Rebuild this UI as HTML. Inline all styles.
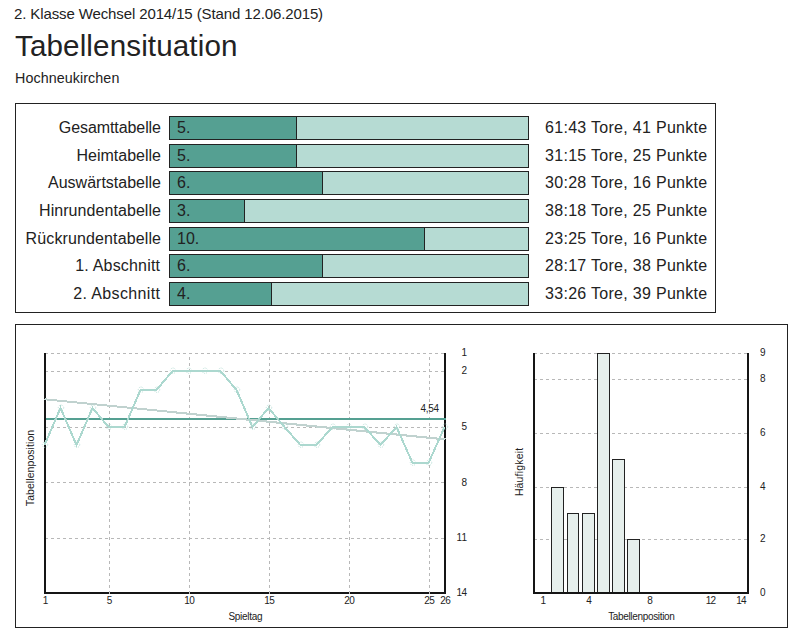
<!DOCTYPE html><html><head><meta charset="utf-8"><style>html,body{margin:0;padding:0;background:#fff;width:803px;height:636px;overflow:hidden}svg{display:block}text{font-family:"Liberation Sans",sans-serif;fill:#222}</style></head><body>
<svg width="803" height="636" viewBox="0 0 803 636" shape-rendering="crispEdges">
<text id="hdr" x="14.00" y="18.80" font-size="15" textLength="309.11" lengthAdjust="spacing">2. Klasse Wechsel 2014/15 (Stand 12.06.2015)</text>
<text id="title" x="15.00" y="56.00" font-size="29.6" textLength="222.47" lengthAdjust="spacing">Tabellensituation</text>
<text id="sub" x="15.00" y="83.00" font-size="14.3" textLength="104.33" lengthAdjust="spacing">Hochneukirchen</text>
<rect x="15.5" y="103.5" width="700" height="209" fill="none" stroke="#222"/>
<rect x="170" y="117" width="358" height="22" fill="#b6dbd3"/>
<rect x="170" y="117" width="126" height="22" fill="#55a092"/>
<rect x="296" y="117" width="1" height="22" fill="#222"/>
<rect x="169.5" y="116.5" width="359" height="23" fill="none" stroke="#222"/>
<text id="lab0" x="161.00" y="133.00" font-size="16" text-anchor="end" textLength="102.17" lengthAdjust="spacing">Gesamttabelle</text>
<text id="rk0" x="177.00" y="133.00" font-size="16">5.</text>
<text id="res0" x="545.00" y="133.00" font-size="16" textLength="162.27" lengthAdjust="spacing">61:43 Tore, 41 Punkte</text>
<rect x="170" y="145" width="358" height="22" fill="#b6dbd3"/>
<rect x="170" y="145" width="126" height="22" fill="#55a092"/>
<rect x="296" y="145" width="1" height="22" fill="#222"/>
<rect x="169.5" y="144.5" width="359" height="23" fill="none" stroke="#222"/>
<text id="lab1" x="161.00" y="161.00" font-size="16" text-anchor="end" textLength="84.48" lengthAdjust="spacing">Heimtabelle</text>
<text id="rk1" x="177.00" y="161.00" font-size="16">5.</text>
<text id="res1" x="545.00" y="161.00" font-size="16" textLength="162.27" lengthAdjust="spacing">31:15 Tore, 25 Punkte</text>
<rect x="170" y="172" width="358" height="22" fill="#b6dbd3"/>
<rect x="170" y="172" width="152" height="22" fill="#55a092"/>
<rect x="322" y="172" width="1" height="22" fill="#222"/>
<rect x="169.5" y="171.5" width="359" height="23" fill="none" stroke="#222"/>
<text id="lab2" x="161.00" y="188.00" font-size="16" text-anchor="end" textLength="112.95" lengthAdjust="spacing">Auswärtstabelle</text>
<text id="rk2" x="177.00" y="188.00" font-size="16">6.</text>
<text id="res2" x="545.00" y="188.00" font-size="16" textLength="162.27" lengthAdjust="spacing">30:28 Tore, 16 Punkte</text>
<rect x="170" y="200" width="358" height="22" fill="#b6dbd3"/>
<rect x="170" y="200" width="74" height="22" fill="#55a092"/>
<rect x="244" y="200" width="1" height="22" fill="#222"/>
<rect x="169.5" y="199.5" width="359" height="23" fill="none" stroke="#222"/>
<text id="lab3" x="161.00" y="216.00" font-size="16" text-anchor="end" textLength="121.98" lengthAdjust="spacing">Hinrundentabelle</text>
<text id="rk3" x="177.00" y="216.00" font-size="16">3.</text>
<text id="res3" x="545.00" y="216.00" font-size="16" textLength="162.27" lengthAdjust="spacing">38:18 Tore, 25 Punkte</text>
<rect x="170" y="228" width="358" height="22" fill="#b6dbd3"/>
<rect x="170" y="228" width="254" height="22" fill="#55a092"/>
<rect x="424" y="228" width="1" height="22" fill="#222"/>
<rect x="169.5" y="227.5" width="359" height="23" fill="none" stroke="#222"/>
<text id="lab4" x="161.00" y="244.00" font-size="16" text-anchor="end" textLength="135.42" lengthAdjust="spacing">Rückrundentabelle</text>
<text id="rk4" x="177.00" y="244.00" font-size="16">10.</text>
<text id="res4" x="545.00" y="244.00" font-size="16" textLength="162.27" lengthAdjust="spacing">23:25 Tore, 16 Punkte</text>
<rect x="170" y="255" width="358" height="22" fill="#b6dbd3"/>
<rect x="170" y="255" width="152" height="22" fill="#55a092"/>
<rect x="322" y="255" width="1" height="22" fill="#222"/>
<rect x="169.5" y="254.5" width="359" height="23" fill="none" stroke="#222"/>
<text id="lab5" x="160.00" y="271.00" font-size="16" text-anchor="end" textLength="84.72" lengthAdjust="spacing">1. Abschnitt</text>
<text id="rk5" x="177.00" y="271.00" font-size="16">6.</text>
<text id="res5" x="545.00" y="271.00" font-size="16" textLength="162.27" lengthAdjust="spacing">28:17 Tore, 38 Punkte</text>
<rect x="170" y="283" width="358" height="22" fill="#b6dbd3"/>
<rect x="170" y="283" width="101" height="22" fill="#55a092"/>
<rect x="271" y="283" width="1" height="22" fill="#222"/>
<rect x="169.5" y="282.5" width="359" height="23" fill="none" stroke="#222"/>
<text id="lab6" x="160.00" y="299.00" font-size="16" text-anchor="end" textLength="86.72" lengthAdjust="spacing">2. Abschnitt</text>
<text id="rk6" x="177.00" y="299.00" font-size="16">4.</text>
<text id="res6" x="545.00" y="299.00" font-size="16" textLength="162.27" lengthAdjust="spacing">33:26 Tore, 39 Punkte</text>
<rect x="15.5" y="324.5" width="772" height="303" fill="none" stroke="#222"/>
<path d="M46 353.5h2M51 353.5h3M57 353.5h3M63 353.5h3M69 353.5h3M75 353.5h3M81 353.5h3M87 353.5h3M93 353.5h3M99 353.5h3M105 353.5h3M111 353.5h3M117 353.5h3M123 353.5h3M129 353.5h3M135 353.5h3M141 353.5h3M147 353.5h3M153 353.5h3M159 353.5h3M165 353.5h3M171 353.5h3M177 353.5h3M183 353.5h3M189 353.5h3M195 353.5h3M201 353.5h3M207 353.5h3M213 353.5h3M219 353.5h3M225 353.5h3M231 353.5h3M237 353.5h3M243 353.5h3M249 353.5h3M255 353.5h3M261 353.5h3M267 353.5h3M273 353.5h3M279 353.5h3M285 353.5h3M291 353.5h3M297 353.5h3M303 353.5h3M309 353.5h3M315 353.5h3M321 353.5h3M327 353.5h3M333 353.5h3M339 353.5h3M345 353.5h3M351 353.5h3M357 353.5h3M363 353.5h3M369 353.5h3M375 353.5h3M381 353.5h3M387 353.5h3M393 353.5h3M399 353.5h3M405 353.5h3M411 353.5h3M417 353.5h3M423 353.5h3M429 353.5h3M435 353.5h3M441 353.5h3" stroke="#b8b8b8" stroke-width="1" fill="none"/>
<path d="M46 371.5h2M51 371.5h3M57 371.5h3M63 371.5h3M69 371.5h3M75 371.5h3M81 371.5h3M87 371.5h3M93 371.5h3M99 371.5h3M105 371.5h3M111 371.5h3M117 371.5h3M123 371.5h3M129 371.5h3M135 371.5h3M141 371.5h3M147 371.5h3M153 371.5h3M159 371.5h3M165 371.5h3M171 371.5h3M177 371.5h3M183 371.5h3M189 371.5h3M195 371.5h3M201 371.5h3M207 371.5h3M213 371.5h3M219 371.5h3M225 371.5h3M231 371.5h3M237 371.5h3M243 371.5h3M249 371.5h3M255 371.5h3M261 371.5h3M267 371.5h3M273 371.5h3M279 371.5h3M285 371.5h3M291 371.5h3M297 371.5h3M303 371.5h3M309 371.5h3M315 371.5h3M321 371.5h3M327 371.5h3M333 371.5h3M339 371.5h3M345 371.5h3M351 371.5h3M357 371.5h3M363 371.5h3M369 371.5h3M375 371.5h3M381 371.5h3M387 371.5h3M393 371.5h3M399 371.5h3M405 371.5h3M411 371.5h3M417 371.5h3M423 371.5h3M429 371.5h3M435 371.5h3M441 371.5h3" stroke="#b8b8b8" stroke-width="1" fill="none"/>
<path d="M46 427.5h2M51 427.5h3M57 427.5h3M63 427.5h3M69 427.5h3M75 427.5h3M81 427.5h3M87 427.5h3M93 427.5h3M99 427.5h3M105 427.5h3M111 427.5h3M117 427.5h3M123 427.5h3M129 427.5h3M135 427.5h3M141 427.5h3M147 427.5h3M153 427.5h3M159 427.5h3M165 427.5h3M171 427.5h3M177 427.5h3M183 427.5h3M189 427.5h3M195 427.5h3M201 427.5h3M207 427.5h3M213 427.5h3M219 427.5h3M225 427.5h3M231 427.5h3M237 427.5h3M243 427.5h3M249 427.5h3M255 427.5h3M261 427.5h3M267 427.5h3M273 427.5h3M279 427.5h3M285 427.5h3M291 427.5h3M297 427.5h3M303 427.5h3M309 427.5h3M315 427.5h3M321 427.5h3M327 427.5h3M333 427.5h3M339 427.5h3M345 427.5h3M351 427.5h3M357 427.5h3M363 427.5h3M369 427.5h3M375 427.5h3M381 427.5h3M387 427.5h3M393 427.5h3M399 427.5h3M405 427.5h3M411 427.5h3M417 427.5h3M423 427.5h3M429 427.5h3M435 427.5h3M441 427.5h3" stroke="#b8b8b8" stroke-width="1" fill="none"/>
<path d="M46 482.5h2M51 482.5h3M57 482.5h3M63 482.5h3M69 482.5h3M75 482.5h3M81 482.5h3M87 482.5h3M93 482.5h3M99 482.5h3M105 482.5h3M111 482.5h3M117 482.5h3M123 482.5h3M129 482.5h3M135 482.5h3M141 482.5h3M147 482.5h3M153 482.5h3M159 482.5h3M165 482.5h3M171 482.5h3M177 482.5h3M183 482.5h3M189 482.5h3M195 482.5h3M201 482.5h3M207 482.5h3M213 482.5h3M219 482.5h3M225 482.5h3M231 482.5h3M237 482.5h3M243 482.5h3M249 482.5h3M255 482.5h3M261 482.5h3M267 482.5h3M273 482.5h3M279 482.5h3M285 482.5h3M291 482.5h3M297 482.5h3M303 482.5h3M309 482.5h3M315 482.5h3M321 482.5h3M327 482.5h3M333 482.5h3M339 482.5h3M345 482.5h3M351 482.5h3M357 482.5h3M363 482.5h3M369 482.5h3M375 482.5h3M381 482.5h3M387 482.5h3M393 482.5h3M399 482.5h3M405 482.5h3M411 482.5h3M417 482.5h3M423 482.5h3M429 482.5h3M435 482.5h3M441 482.5h3" stroke="#b8b8b8" stroke-width="1" fill="none"/>
<path d="M46 538.5h2M51 538.5h3M57 538.5h3M63 538.5h3M69 538.5h3M75 538.5h3M81 538.5h3M87 538.5h3M93 538.5h3M99 538.5h3M105 538.5h3M111 538.5h3M117 538.5h3M123 538.5h3M129 538.5h3M135 538.5h3M141 538.5h3M147 538.5h3M153 538.5h3M159 538.5h3M165 538.5h3M171 538.5h3M177 538.5h3M183 538.5h3M189 538.5h3M195 538.5h3M201 538.5h3M207 538.5h3M213 538.5h3M219 538.5h3M225 538.5h3M231 538.5h3M237 538.5h3M243 538.5h3M249 538.5h3M255 538.5h3M261 538.5h3M267 538.5h3M273 538.5h3M279 538.5h3M285 538.5h3M291 538.5h3M297 538.5h3M303 538.5h3M309 538.5h3M315 538.5h3M321 538.5h3M327 538.5h3M333 538.5h3M339 538.5h3M345 538.5h3M351 538.5h3M357 538.5h3M363 538.5h3M369 538.5h3M375 538.5h3M381 538.5h3M387 538.5h3M393 538.5h3M399 538.5h3M405 538.5h3M411 538.5h3M417 538.5h3M423 538.5h3M429 538.5h3M435 538.5h3M441 538.5h3" stroke="#b8b8b8" stroke-width="1" fill="none"/>
<path d="M109.5 357v3M109.5 363v3M109.5 369v3M109.5 375v3M109.5 381v3M109.5 387v3M109.5 393v3M109.5 399v3M109.5 405v3M109.5 411v3M109.5 417v3M109.5 423v3M109.5 429v3M109.5 435v3M109.5 441v3M109.5 447v3M109.5 453v3M109.5 459v3M109.5 465v3M109.5 471v3M109.5 477v3M109.5 483v3M109.5 489v3M109.5 495v3M109.5 501v3M109.5 507v3M109.5 513v3M109.5 519v3M109.5 525v3M109.5 531v3M109.5 537v3M109.5 543v3M109.5 549v3M109.5 555v3M109.5 561v3M109.5 567v3M109.5 573v3M109.5 579v3M109.5 585v3M109.5 591v1" stroke="#b8b8b8" stroke-width="1" fill="none"/>
<path d="M189.5 357v3M189.5 363v3M189.5 369v3M189.5 375v3M189.5 381v3M189.5 387v3M189.5 393v3M189.5 399v3M189.5 405v3M189.5 411v3M189.5 417v3M189.5 423v3M189.5 429v3M189.5 435v3M189.5 441v3M189.5 447v3M189.5 453v3M189.5 459v3M189.5 465v3M189.5 471v3M189.5 477v3M189.5 483v3M189.5 489v3M189.5 495v3M189.5 501v3M189.5 507v3M189.5 513v3M189.5 519v3M189.5 525v3M189.5 531v3M189.5 537v3M189.5 543v3M189.5 549v3M189.5 555v3M189.5 561v3M189.5 567v3M189.5 573v3M189.5 579v3M189.5 585v3M189.5 591v1" stroke="#b8b8b8" stroke-width="1" fill="none"/>
<path d="M269.5 357v3M269.5 363v3M269.5 369v3M269.5 375v3M269.5 381v3M269.5 387v3M269.5 393v3M269.5 399v3M269.5 405v3M269.5 411v3M269.5 417v3M269.5 423v3M269.5 429v3M269.5 435v3M269.5 441v3M269.5 447v3M269.5 453v3M269.5 459v3M269.5 465v3M269.5 471v3M269.5 477v3M269.5 483v3M269.5 489v3M269.5 495v3M269.5 501v3M269.5 507v3M269.5 513v3M269.5 519v3M269.5 525v3M269.5 531v3M269.5 537v3M269.5 543v3M269.5 549v3M269.5 555v3M269.5 561v3M269.5 567v3M269.5 573v3M269.5 579v3M269.5 585v3M269.5 591v1" stroke="#b8b8b8" stroke-width="1" fill="none"/>
<path d="M349.5 357v3M349.5 363v3M349.5 369v3M349.5 375v3M349.5 381v3M349.5 387v3M349.5 393v3M349.5 399v3M349.5 405v3M349.5 411v3M349.5 417v3M349.5 423v3M349.5 429v3M349.5 435v3M349.5 441v3M349.5 447v3M349.5 453v3M349.5 459v3M349.5 465v3M349.5 471v3M349.5 477v3M349.5 483v3M349.5 489v3M349.5 495v3M349.5 501v3M349.5 507v3M349.5 513v3M349.5 519v3M349.5 525v3M349.5 531v3M349.5 537v3M349.5 543v3M349.5 549v3M349.5 555v3M349.5 561v3M349.5 567v3M349.5 573v3M349.5 579v3M349.5 585v3M349.5 591v1" stroke="#b8b8b8" stroke-width="1" fill="none"/>
<path d="M429.5 357v3M429.5 363v3M429.5 369v3M429.5 375v3M429.5 381v3M429.5 387v3M429.5 393v3M429.5 399v3M429.5 405v3M429.5 411v3M429.5 417v3M429.5 423v3M429.5 429v3M429.5 435v3M429.5 441v3M429.5 447v3M429.5 453v3M429.5 459v3M429.5 465v3M429.5 471v3M429.5 477v3M429.5 483v3M429.5 489v3M429.5 495v3M429.5 501v3M429.5 507v3M429.5 513v3M429.5 519v3M429.5 525v3M429.5 531v3M429.5 537v3M429.5 543v3M429.5 549v3M429.5 555v3M429.5 561v3M429.5 567v3M429.5 573v3M429.5 579v3M429.5 585v3M429.5 591v1" stroke="#b8b8b8" stroke-width="1" fill="none"/>
<rect x="44" y="353" width="2" height="241" fill="#151515"/>
<rect x="444" y="353" width="2" height="241" fill="#151515"/>
<rect x="44" y="592" width="402" height="2" fill="#151515"/>
<rect x="109" y="592" width="1" height="2" fill="#c8c8c8"/>
<rect x="189" y="592" width="1" height="2" fill="#c8c8c8"/>
<rect x="269" y="592" width="1" height="2" fill="#c8c8c8"/>
<rect x="349" y="592" width="1" height="2" fill="#c8c8c8"/>
<rect x="429" y="592" width="1" height="2" fill="#c8c8c8"/>
<rect x="46" y="418" width="400" height="2" fill="#55a092"/>
<line x1="44.5" y1="399.3" x2="445.5" y2="439.4" stroke="#c0d2cf" stroke-width="2"/>
<circle cx="45" cy="444.70" r="2.7" fill="none" stroke="#acd8cf" stroke-width="0.8" stroke-dasharray="1 1" shape-rendering="auto" stroke-opacity="1"/>
<circle cx="61" cy="407.70" r="2.7" fill="none" stroke="#acd8cf" stroke-width="0.8" stroke-dasharray="1 1" shape-rendering="auto" stroke-opacity="1"/>
<circle cx="77" cy="444.70" r="2.7" fill="none" stroke="#acd8cf" stroke-width="0.8" stroke-dasharray="1 1" shape-rendering="auto" stroke-opacity="1"/>
<circle cx="93" cy="407.70" r="2.7" fill="none" stroke="#acd8cf" stroke-width="0.8" stroke-dasharray="1 1" shape-rendering="auto" stroke-opacity="1"/>
<circle cx="109" cy="426.70" r="2.7" fill="none" stroke="#acd8cf" stroke-width="0.8" stroke-dasharray="1 1" shape-rendering="auto" stroke-opacity="1"/>
<circle cx="125" cy="426.70" r="2.7" fill="none" stroke="#acd8cf" stroke-width="0.8" stroke-dasharray="1 1" shape-rendering="auto" stroke-opacity="1"/>
<circle cx="141" cy="389.70" r="2.7" fill="none" stroke="#acd8cf" stroke-width="0.8" stroke-dasharray="1 1" shape-rendering="auto" stroke-opacity="1"/>
<circle cx="157" cy="389.70" r="2.7" fill="none" stroke="#acd8cf" stroke-width="0.8" stroke-dasharray="1 1" shape-rendering="auto" stroke-opacity="1"/>
<circle cx="173" cy="370.70" r="2.7" fill="none" stroke="#acd8cf" stroke-width="0.8" stroke-dasharray="1 1" shape-rendering="auto" stroke-opacity="1"/>
<circle cx="189" cy="370.70" r="2.7" fill="none" stroke="#acd8cf" stroke-width="0.8" stroke-dasharray="1 1" shape-rendering="auto" stroke-opacity="1"/>
<circle cx="205" cy="370.70" r="2.7" fill="none" stroke="#acd8cf" stroke-width="0.8" stroke-dasharray="1 1" shape-rendering="auto" stroke-opacity="1"/>
<circle cx="221" cy="370.70" r="2.7" fill="none" stroke="#acd8cf" stroke-width="0.8" stroke-dasharray="1 1" shape-rendering="auto" stroke-opacity="1"/>
<circle cx="237" cy="389.70" r="2.7" fill="none" stroke="#acd8cf" stroke-width="0.8" stroke-dasharray="1 1" shape-rendering="auto" stroke-opacity="1"/>
<circle cx="253" cy="426.70" r="2.7" fill="none" stroke="#acd8cf" stroke-width="0.8" stroke-dasharray="1 1" shape-rendering="auto" stroke-opacity="1"/>
<circle cx="269" cy="407.70" r="2.7" fill="none" stroke="#acd8cf" stroke-width="0.8" stroke-dasharray="1 1" shape-rendering="auto" stroke-opacity="1"/>
<circle cx="285" cy="426.70" r="2.7" fill="none" stroke="#acd8cf" stroke-width="0.8" stroke-dasharray="1 1" shape-rendering="auto" stroke-opacity="1"/>
<circle cx="301" cy="444.70" r="2.7" fill="none" stroke="#acd8cf" stroke-width="0.8" stroke-dasharray="1 1" shape-rendering="auto" stroke-opacity="1"/>
<circle cx="317" cy="444.70" r="2.7" fill="none" stroke="#acd8cf" stroke-width="0.8" stroke-dasharray="1 1" shape-rendering="auto" stroke-opacity="1"/>
<circle cx="333" cy="426.70" r="2.7" fill="none" stroke="#acd8cf" stroke-width="0.8" stroke-dasharray="1 1" shape-rendering="auto" stroke-opacity="1"/>
<circle cx="349" cy="426.70" r="2.7" fill="none" stroke="#acd8cf" stroke-width="0.8" stroke-dasharray="1 1" shape-rendering="auto" stroke-opacity="1"/>
<circle cx="365" cy="426.70" r="2.7" fill="none" stroke="#acd8cf" stroke-width="0.8" stroke-dasharray="1 1" shape-rendering="auto" stroke-opacity="1"/>
<circle cx="381" cy="444.70" r="2.7" fill="none" stroke="#acd8cf" stroke-width="0.8" stroke-dasharray="1 1" shape-rendering="auto" stroke-opacity="1"/>
<circle cx="397" cy="426.70" r="2.7" fill="none" stroke="#acd8cf" stroke-width="0.8" stroke-dasharray="1 1" shape-rendering="auto" stroke-opacity="1"/>
<circle cx="413" cy="462.70" r="2.7" fill="none" stroke="#acd8cf" stroke-width="0.8" stroke-dasharray="1 1" shape-rendering="auto" stroke-opacity="1"/>
<circle cx="429" cy="462.70" r="2.7" fill="none" stroke="#acd8cf" stroke-width="0.8" stroke-dasharray="1 1" shape-rendering="auto" stroke-opacity="1"/>
<circle cx="445" cy="426.70" r="2.7" fill="none" stroke="#acd8cf" stroke-width="0.8" stroke-dasharray="1 1" shape-rendering="auto" stroke-opacity="1"/>
<polyline points="44.5,445 60.5,408 76.5,445 92.5,408 108.5,427 124.5,427 140.5,390 156.5,390 172.5,371 188.5,371 204.5,371 220.5,371 236.5,390 252.5,427 268.5,408 284.5,427 300.5,445 316.5,445 332.5,427 348.5,427 364.5,427 380.5,445 396.5,427 412.5,463 428.5,463 444.5,427" fill="none" stroke="#acd8cf" stroke-width="2" stroke-linejoin="miter"/>
<text id="mean" x="439.00" y="412.00" font-size="10" text-anchor="end" textLength="18.47" lengthAdjust="spacing">4,54</text>
<text id="ly1" x="467.00" y="356.00" font-size="10" text-anchor="end">1</text>
<text id="ly2" x="467.00" y="374.00" font-size="10" text-anchor="end">2</text>
<text id="ly5" x="467.00" y="430.00" font-size="10" text-anchor="end">5</text>
<text id="ly8" x="467.00" y="486.00" font-size="10" text-anchor="end">8</text>
<text id="ly11" x="467.00" y="541.00" font-size="10" text-anchor="end" textLength="10.40" lengthAdjust="spacing">11</text>
<text id="ly14" x="467.00" y="596.00" font-size="10" text-anchor="end" textLength="10.40" lengthAdjust="spacing">14</text>
<text id="lx1" x="45.50" y="604.00" font-size="10" text-anchor="middle">1</text>
<text id="lx5" x="109.50" y="604.00" font-size="10" text-anchor="middle">5</text>
<text id="lx10" x="189.50" y="604.00" font-size="10" text-anchor="middle" textLength="10.50" lengthAdjust="spacing">10</text>
<text id="lx15" x="269.50" y="604.00" font-size="10" text-anchor="middle" textLength="10.50" lengthAdjust="spacing">15</text>
<text id="lx20" x="349.50" y="604.00" font-size="10" text-anchor="middle" textLength="10.50" lengthAdjust="spacing">20</text>
<text id="lx25" x="429.50" y="604.00" font-size="10" text-anchor="middle" textLength="10.50" lengthAdjust="spacing">25</text>
<text id="lx26" x="445.50" y="604.00" font-size="10" text-anchor="middle" textLength="10.50" lengthAdjust="spacing">26</text>
<text id="spieltag" x="245.50" y="620.00" font-size="10" text-anchor="middle" textLength="34.14" lengthAdjust="spacing">Spieltag</text>
<text id="tabpos1" transform="translate(33.50,468.00) rotate(-90)" font-size="10.5" text-anchor="middle" textLength="76.31" lengthAdjust="spacing">Tabellenposition</text>
<path d="M535 539.5h2M540 539.5h3M546 539.5h3M552 539.5h3M558 539.5h3M564 539.5h3M570 539.5h3M576 539.5h3M582 539.5h3M588 539.5h3M594 539.5h3M600 539.5h3M606 539.5h3M612 539.5h3M618 539.5h3M624 539.5h3M630 539.5h3M636 539.5h3M642 539.5h3M648 539.5h3M654 539.5h3M660 539.5h3M666 539.5h3M672 539.5h3M678 539.5h3M684 539.5h3M690 539.5h3M696 539.5h3M702 539.5h3M708 539.5h3M714 539.5h3M720 539.5h3M726 539.5h3M732 539.5h3M738 539.5h3M744 539.5h3" stroke="#b8b8b8" stroke-width="1" fill="none"/>
<path d="M535 487.5h2M540 487.5h3M546 487.5h3M552 487.5h3M558 487.5h3M564 487.5h3M570 487.5h3M576 487.5h3M582 487.5h3M588 487.5h3M594 487.5h3M600 487.5h3M606 487.5h3M612 487.5h3M618 487.5h3M624 487.5h3M630 487.5h3M636 487.5h3M642 487.5h3M648 487.5h3M654 487.5h3M660 487.5h3M666 487.5h3M672 487.5h3M678 487.5h3M684 487.5h3M690 487.5h3M696 487.5h3M702 487.5h3M708 487.5h3M714 487.5h3M720 487.5h3M726 487.5h3M732 487.5h3M738 487.5h3M744 487.5h3" stroke="#b8b8b8" stroke-width="1" fill="none"/>
<path d="M535 433.5h2M540 433.5h3M546 433.5h3M552 433.5h3M558 433.5h3M564 433.5h3M570 433.5h3M576 433.5h3M582 433.5h3M588 433.5h3M594 433.5h3M600 433.5h3M606 433.5h3M612 433.5h3M618 433.5h3M624 433.5h3M630 433.5h3M636 433.5h3M642 433.5h3M648 433.5h3M654 433.5h3M660 433.5h3M666 433.5h3M672 433.5h3M678 433.5h3M684 433.5h3M690 433.5h3M696 433.5h3M702 433.5h3M708 433.5h3M714 433.5h3M720 433.5h3M726 433.5h3M732 433.5h3M738 433.5h3M744 433.5h3" stroke="#b8b8b8" stroke-width="1" fill="none"/>
<path d="M535 379.5h2M540 379.5h3M546 379.5h3M552 379.5h3M558 379.5h3M564 379.5h3M570 379.5h3M576 379.5h3M582 379.5h3M588 379.5h3M594 379.5h3M600 379.5h3M606 379.5h3M612 379.5h3M618 379.5h3M624 379.5h3M630 379.5h3M636 379.5h3M642 379.5h3M648 379.5h3M654 379.5h3M660 379.5h3M666 379.5h3M672 379.5h3M678 379.5h3M684 379.5h3M690 379.5h3M696 379.5h3M702 379.5h3M708 379.5h3M714 379.5h3M720 379.5h3M726 379.5h3M732 379.5h3M738 379.5h3M744 379.5h3" stroke="#b8b8b8" stroke-width="1" fill="none"/>
<path d="M535 353.5h2M540 353.5h3M546 353.5h3M552 353.5h3M558 353.5h3M564 353.5h3M570 353.5h3M576 353.5h3M582 353.5h3M588 353.5h3M594 353.5h3M600 353.5h3M606 353.5h3M612 353.5h3M618 353.5h3M624 353.5h3M630 353.5h3M636 353.5h3M642 353.5h3M648 353.5h3M654 353.5h3M660 353.5h3M666 353.5h3M672 353.5h3M678 353.5h3M684 353.5h3M690 353.5h3M696 353.5h3M702 353.5h3M708 353.5h3M714 353.5h3M720 353.5h3M726 353.5h3M732 353.5h3M738 353.5h3M744 353.5h3" stroke="#b8b8b8" stroke-width="1" fill="none"/>
<rect x="551.5" y="487.5" width="12" height="105" fill="#e6efec" stroke="#222"/>
<rect x="567.5" y="513.5" width="11" height="79" fill="#e6efec" stroke="#222"/>
<rect x="582.5" y="513.5" width="12" height="79" fill="#e6efec" stroke="#222"/>
<rect x="597.5" y="353.5" width="12" height="239" fill="#e6efec" stroke="#222"/>
<rect x="612.5" y="459.5" width="12" height="133" fill="#e6efec" stroke="#222"/>
<rect x="627.5" y="539.5" width="12" height="53" fill="#e6efec" stroke="#222"/>
<rect x="533" y="353" width="2" height="241" fill="#151515"/>
<rect x="747" y="353" width="2" height="241" fill="#151515"/>
<rect x="533" y="592" width="216" height="2" fill="#151515"/>
<text id="hy9" x="760.00" y="356.10" font-size="10">9</text>
<text id="hy8" x="760.00" y="382.00" font-size="10">8</text>
<text id="hy6" x="760.00" y="435.80" font-size="10">6</text>
<text id="hy4" x="760.00" y="490.00" font-size="10">4</text>
<text id="hy2" x="760.00" y="542.20" font-size="10">2</text>
<text id="hy0" x="760.00" y="596.20" font-size="10">0</text>
<text id="hx1" x="543.40" y="604.00" font-size="10" text-anchor="middle">1</text>
<text id="hx4" x="589.09" y="604.00" font-size="10" text-anchor="middle">4</text>
<text id="hx8" x="650.01" y="604.00" font-size="10" text-anchor="middle">8</text>
<text id="hx12" x="710.93" y="604.00" font-size="10" text-anchor="middle" textLength="10.50" lengthAdjust="spacing">12</text>
<text id="hx14" x="741.39" y="604.00" font-size="10" text-anchor="middle" textLength="10.50" lengthAdjust="spacing">14</text>
<text id="tabpos2" x="641.50" y="620.00" font-size="10" text-anchor="middle" textLength="66.72" lengthAdjust="spacing">Tabellenposition</text>
<text id="haeuf" transform="translate(522.50,472.00) rotate(-90)" font-size="10.4" text-anchor="middle" textLength="48.22" lengthAdjust="spacing">Häufigkeit</text>
</svg></body></html>
